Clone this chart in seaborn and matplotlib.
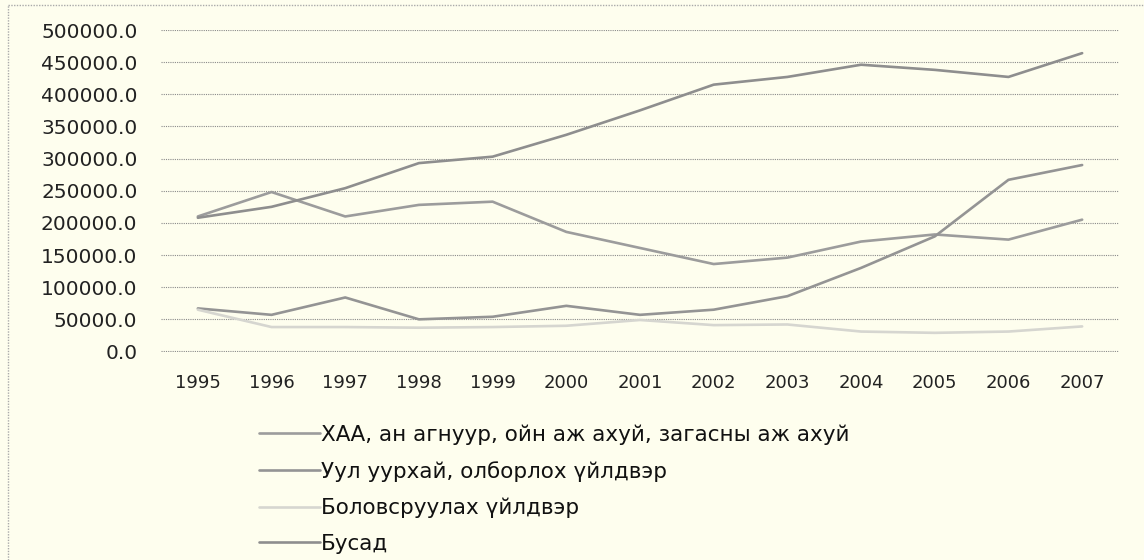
import matplotlib
matplotlib.use("Agg")
import matplotlib.pyplot as plt
import seaborn as sns
import pandas as pd
from matplotlib.lines import Line2D

years = ["1995", "1996", "1997", "1998", "1999", "2000", "2001",
         "2002", "2003", "2004", "2005", "2006", "2007"]

# ХАА, ан агнуур, ойн аж ахуй, загасны аж ахуй
agri = [210000, 248000, 210000, 228000, 233000, 186000, 161000,
        136000, 146000, 171000, 182000, 174000, 205000]
# Уул уурхай, олборлох үйлдвэр
mining = [67000, 57000, 84000, 50000, 54000, 71000, 57000,
          65000, 86000, 130000, 179000, 267000, 290000]
# Боловсруулах үйлдвэр
manuf = [65000, 38000, 38000, 37000, 38000, 40000, 49000,
         41000, 42000, 31000, 29000, 31000, 39000]
# Бусад
other = [208000, 225000, 254000, 293000, 303000, 337000, 375000,
         415000, 427000, 446000, 438000, 427000, 464000]

labels = ["ХАА, ан агнуур, ойн аж ахуй, загасны аж ахуй",
          "Уул уурхай, олборлох үйлдвэр",
          "Боловсруулах үйлдвэр",
          "Бусад"]
colors = ["#9c9c9c", "#949494", "#d6d6d0", "#8e8e8e"]

df = pd.DataFrame({"year": years * 4,
                   "value": agri + mining + manuf + other,
                   "series": sum([[l] * len(years) for l in labels], [])})
df["pos"] = df["year"].map({y: i for i, y in enumerate(years)})

sns.set_style("white")
plt.rcParams["font.family"] = ["DejaVu Sans"]

bg = "#fefeee"
fig = plt.figure(figsize=(11.44, 5.6), dpi=100, facecolor=bg)
ax = fig.add_axes([161 / 1144, 1 - 352 / 560, (1119 - 161) / 1144, (352 - 30) / 560])
ax.set_facecolor(bg)

sns.lineplot(data=df, x="pos", y="value", hue="series", hue_order=labels,
             palette=colors, linewidth=1.9, legend=False, ax=ax)

ax.set_xlim(-0.5, len(years) - 0.5)
ax.set_ylim(-800, 500000)
ax.set_xticks(range(len(years)))
ax.set_xticklabels(years)
ax.set_yticks(range(0, 500001, 50000))
ax.set_yticklabels([f"{v:.1f}" for v in range(0, 500001, 50000)])
ax.tick_params(axis="x", length=0, labelsize=13, colors="#222222", pad=16)
ax.tick_params(axis="y", length=0, labelsize=14.5, colors="#222222", pad=17)
ax.set_xlabel("")
ax.set_ylabel("")
for s in ax.spines.values():
    s.set_visible(False)
ax.yaxis.grid(True, color="#8a8a8a", linestyle=(0, (1, 1)), linewidth=0.8)
ax.xaxis.grid(False)

# outer chart border (left and top visible)
fig.add_artist(Line2D([8 / 1144, 8 / 1144], [0, 1 - 5 / 560], color="#aaaaaa",
                      linestyle=(0, (1, 1)), linewidth=1, transform=fig.transFigure))
fig.add_artist(Line2D([8 / 1144, 1], [1 - 5 / 560, 1 - 5 / 560], color="#aaaaaa",
                      linestyle=(0, (1, 1)), linewidth=1, transform=fig.transFigure))

handles = [Line2D([0], [0], color=c, linewidth=1.9) for c in colors]
fig.legend(handles, labels, loc="upper left", bbox_to_anchor=(240 / 1144, 1 - 405 / 560),
           frameon=False, fontsize=15.5, handlelength=2.8, handletextpad=0.05,
           labelspacing=0.74, labelcolor="#111111")

plt.savefig("out.png", dpi=100, facecolor=bg)
